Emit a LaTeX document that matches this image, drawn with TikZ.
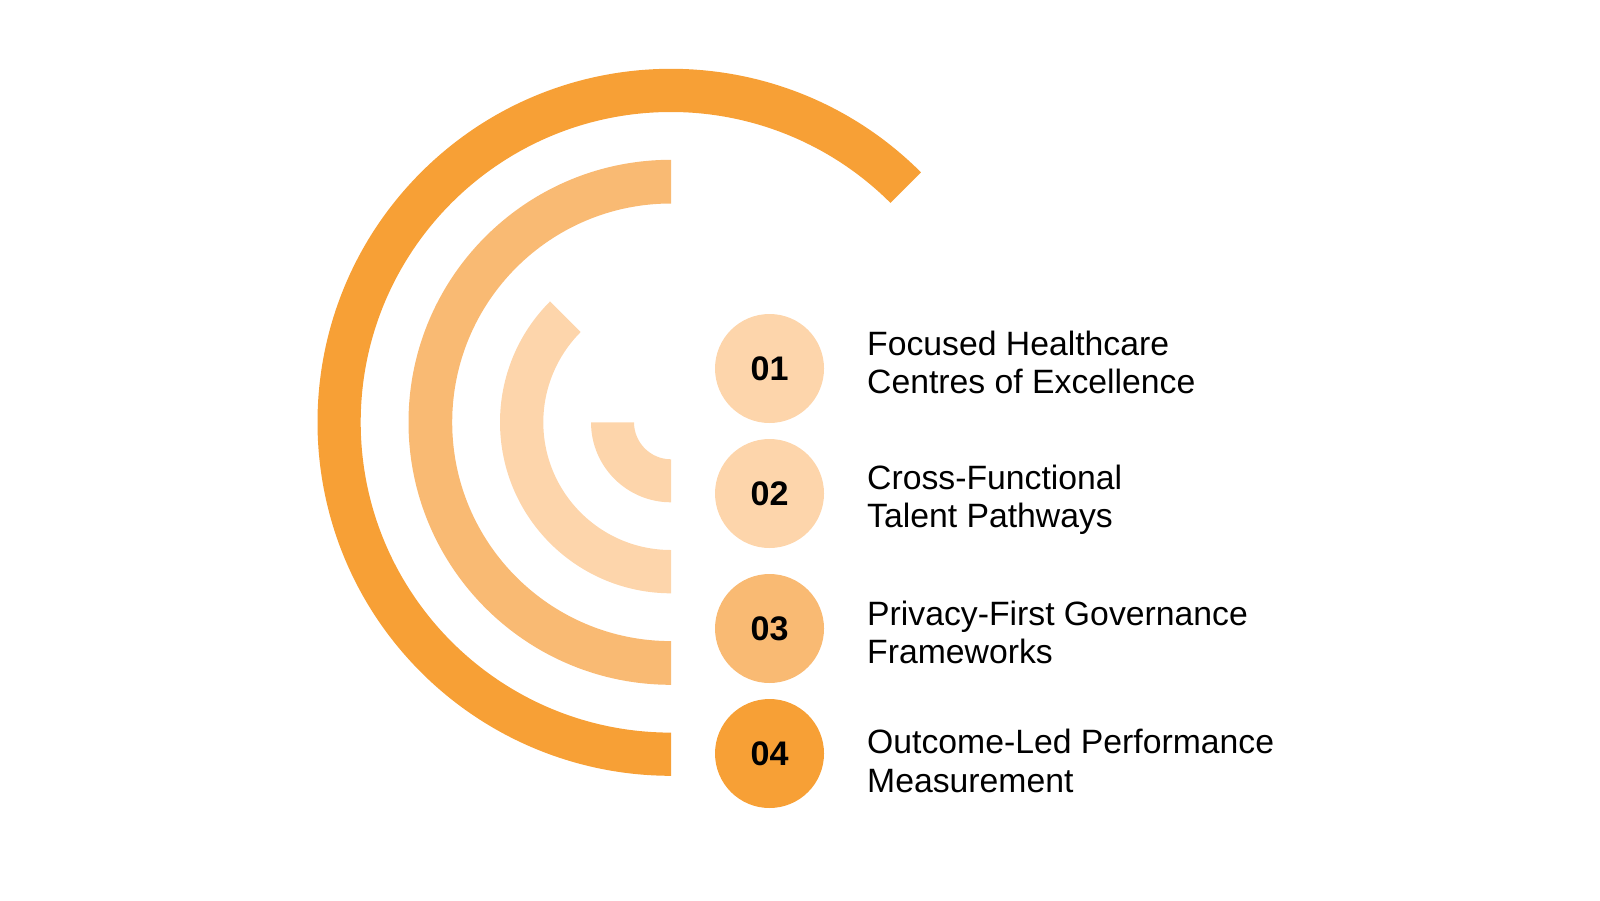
\documentclass[tikz,border=0pt]{standalone}
\usepackage{fontspec}
\setmainfont{Liberation Sans}
\usetikzlibrary{positioning}
\definecolor{ringA}{HTML}{F7A036}
\definecolor{ringB}{HTML}{F9BA73}
\definecolor{ringC}{HTML}{FDD5AB}
\tikzset{
	numdot/.style={circle, minimum size=1.09cm, inner sep=0pt, text=black,
		font=\fontsize{9.7}{11}\selectfont\bfseries},
	itemtext/.style={align=left, inner sep=0pt, anchor=north west, text=black,
		font=\fontsize{9.6}{11}\selectfont}
}
\begin{document}
\begin{tikzpicture}
		\useasboundingbox (0,0) rectangle (16,9);
		\coordinate (O) at (6.71,4.777);
		% rings, outer to inner
		\fill[ringA] (O) ++(45:3.535) arc[start angle=45, end angle=270, radius=3.535]
			-- ++(270:-0.432) arc[start angle=270, end angle=45, radius=3.103] -- cycle;
		\fill[ringB] (O) ++(90:2.625) arc[start angle=90, end angle=270, radius=2.625]
			-- ++(270:-0.437) arc[start angle=270, end angle=90, radius=2.188] -- cycle;
		\fill[ringC] (O) ++(135:1.71) arc[start angle=135, end angle=270, radius=1.71]
			-- ++(270:-0.433) arc[start angle=270, end angle=135, radius=1.277] -- cycle;
		\fill[ringC] (O) ++(180:0.80) arc[start angle=180, end angle=270, radius=0.80]
			-- ++(270:-0.43) arc[start angle=270, end angle=180, radius=0.37] -- cycle;
		%
		\node[numdot, fill=ringC] (N1) at (7.695,5.315) {01};
		\node[numdot, fill=ringC] (N2) at (7.695,4.065) {02};
		\node[numdot, fill=ringB] (N3) at (7.695,2.715) {03};
		\node[numdot, fill=ringA] (N4) at (7.695,1.465) {04};
		%
		\node[itemtext] (T1) at (8.665,5.70) {Focused Healthcare\\Centres of Excellence};
		\node[itemtext] (T2) at (8.665,4.36) {Cross-Functional\\Talent Pathways};
		\node[itemtext] (T3) at (8.665,3.00) {Privacy-First Governance\\Frameworks};
		\node[itemtext] (T4) at (8.665,1.715) {Outcome-Led Performance\\Measurement};
	\end{tikzpicture}
\end{document}
